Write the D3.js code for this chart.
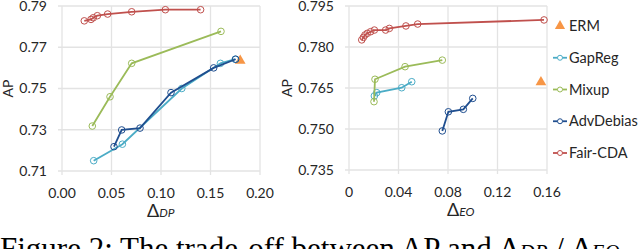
<!DOCTYPE html>
<html>
<head>
<meta charset="utf-8">
<script src="https://cdn.jsdelivr.net/npm/d3@7"></script>
<style>
  body { margin: 0; background: #fff; }
  svg { display: block; }
  text { font-family: Lato, "Open Sans", sans-serif; fill: #262626; }
</style>
</head>
<body>
<svg id="canvas" width="640" height="249"></svg>
<script>
const svg = d3.select("#canvas");

// legend order = draw order
const methods = ["ERM", "GapReg", "Mixup", "AdvDebias", "Fair-CDA"];
const colors = ["#F79646", "#4BACC6", "#9BBB59", "#1F4E8F", "#C0504D"];

// left panel: AP vs delta DP
const dpTicks = [0, 0.05, 0.10, 0.15, 0.20];
const apTicksL = [0.71, 0.73, 0.75, 0.77, 0.79];
const ermDP = [[0.18, 0.7635]];
const gapregDP = [[0.032, 0.715], [0.061, 0.723], [0.121, 0.750], [0.160, 0.7622], [0.175, 0.7642]];
const mixupDP = [[0.0306, 0.7318], [0.0485, 0.746], [0.0704, 0.7622], [0.1606, 0.7777]];
const advDP = [[0.0525, 0.7218], [0.0603, 0.7299], [0.0788, 0.7308], [0.1101, 0.748], [0.1532, 0.760], [0.1754, 0.7642]];
const fairDP = [[0.0225, 0.7828], [0.0293, 0.7835], [0.0316, 0.7843], [0.0357, 0.7853], [0.0461, 0.7861], [0.0704, 0.7872], [0.1044, 0.7882], [0.140, 0.7882]];

// right panel: AP vs delta EO
const eoTicks = [0, 0.04, 0.08, 0.12, 0.16];
const apTicksR = [0.735, 0.750, 0.765, 0.780, 0.795];
const ermEO = [[0.1551, 0.7671]];
const gapregEO = [[0.0205, 0.7621], [0.0224, 0.7633], [0.0426, 0.7651], [0.0507, 0.7673]];
const mixupEO = [[0.0202, 0.760], [0.021, 0.7682], [0.0453, 0.7728], [0.0754, 0.7752]];
const advEO = [[0.0754, 0.7493], [0.0803, 0.7563], [0.0924, 0.7572], [0.1, 0.7612]];
const fairEO = [[0.0103, 0.7826], [0.0116, 0.7835], [0.0129, 0.7844], [0.0148, 0.785], [0.0175, 0.7856], [0.0205, 0.7862], [0.0296, 0.7862], [0.0326, 0.7868], [0.046, 0.7877], [0.0555, 0.7884], [0.1576, 0.7899]];

const grid = "#E3E3E3";

const panel = (opt) => {
  const x = d3.scaleLinear().domain(d3.extent(opt.xTicks)).range([opt.left, opt.right]);
  const y = d3.scaleLinear().domain(d3.extent(opt.yTicks)).range([opt.bottom, opt.top]);
  const g = svg.append("g");

  // grid lines (with little outward ticks)
  g.selectAll(".vg").data(opt.xTicks).join("line")
    .attr("x1", d => x(d)).attr("x2", d => x(d))
    .attr("y1", opt.top).attr("y2", opt.bottom + 4)
    .style("stroke", grid).style("stroke-width", 1.3);
  g.selectAll(".hg").data(opt.yTicks).join("line")
    .attr("y1", d => y(d)).attr("y2", d => y(d))
    .attr("x1", opt.left - 4).attr("x2", opt.right)
    .style("stroke", grid).style("stroke-width", 1.3);

  g.selectAll(".xl").data(opt.xTicks).join("text")
    .attr("x", d => x(d)).attr("y", opt.bottom + 27)
    .attr("text-anchor", "middle").style("font-size", "14px")
    .text(opt.xFmt);
  g.selectAll(".yl").data(opt.yTicks).join("text")
    .attr("x", opt.left - 15).attr("y", d => y(d)).attr("dy", "0.35em")
    .attr("text-anchor", "end").style("font-size", "14px")
    .text(opt.yFmt);

  g.append("text")
    .attr("transform", `translate(${opt.apX},${(opt.top + opt.bottom) / 2}) rotate(-90)`)
    .attr("text-anchor", "middle").attr("dy", "0.35em")
    .style("font-size", "14px").text("AP");

  const xl = g.append("text").attr("x", opt.dX).attr("y", opt.bottom + 46);
  xl.append("tspan").style("font-size", "18px").text("\u0394");
  xl.append("tspan").style("font-size", "12px").style("font-style", "italic").text(opt.sub);

  const line = d3.line().x(d => x(d[0])).y(d => y(d[1]));

  opt.series.forEach((s, i) => {
    const c = colors[i];
    if (i === 0) {
      g.selectAll(null).data(s).join("path")
        .attr("d", d3.symbol(d3.symbolTriangle, 50))
        .attr("transform", d => `translate(${x(d[0])},${y(d[1])})`)
        .style("fill", c);
      return;
    }
    g.append("path").datum(s).attr("d", line)
      .style("fill", "none").style("stroke", c).style("stroke-width", 1.8);
    g.selectAll(null).data(s).join("circle")
      .attr("cx", d => x(d[0])).attr("cy", d => y(d[1])).attr("r", 3.3)
      .style("fill", "none").style("stroke", c).style("stroke-width", 1);
  });
};

panel({
  left: 62, right: 260, top: 6, bottom: 171,
  xTicks: dpTicks, yTicks: apTicksL,
  xFmt: d3.format(".2f"), yFmt: d3.format(".2f"),
  apX: 8, dX: 147, sub: "DP",
  series: [ermDP, gapregDP, mixupDP, advDP, fairDP]
});

panel({
  left: 349, right: 547, top: 6, bottom: 170,
  xTicks: eoTicks, yTicks: apTicksR,
  xFmt: d => d === 0 ? "0" : d3.format(".2f")(d), yFmt: d3.format(".3f"),
  apX: 287, dX: 447, sub: "EO",
  series: [ermEO, gapregEO, mixupEO, advEO, fairEO]
});

// legend
const legY = d3.scalePoint().domain(methods).range([26, 153]);
const leg = svg.append("g");
methods.forEach((m, i) => {
  const yy = legY(m);
  if (i === 0) {
    leg.append("path").attr("d", d3.symbol(d3.symbolTriangle, 45))
      .attr("transform", `translate(560,${yy})`).style("fill", colors[i]);
  } else {
    leg.append("line").attr("x1", 553).attr("x2", 567).attr("y1", yy).attr("y2", yy)
      .style("stroke", colors[i]).style("stroke-width", 1.8);
    leg.append("circle").attr("cx", 560).attr("cy", yy).attr("r", 2.5)
      .style("fill", "#fff").style("stroke", colors[i]).style("stroke-width", 1);
  }
  leg.append("text").attr("x", 569).attr("y", yy).attr("dy", "0.35em")
    .style("font-size", "14.5px").text(m);
});

// caption (cut off at the bottom of the picture)
const cap = svg.append("text").attr("x", 0).attr("y", 259)
  .style("font-family", "'Liberation Serif', serif").style("font-size", "31px").style("fill", "#000");
cap.append("tspan").text("Figure 2: The trade-off between AP and \u0394");
cap.append("tspan").style("font-size", "21px").style("font-style", "italic").text("DP");
cap.append("tspan").text(" / \u0394");
cap.append("tspan").style("font-size", "21px").style("font-style", "italic").text("EO");
</script>
</body>
</html>
